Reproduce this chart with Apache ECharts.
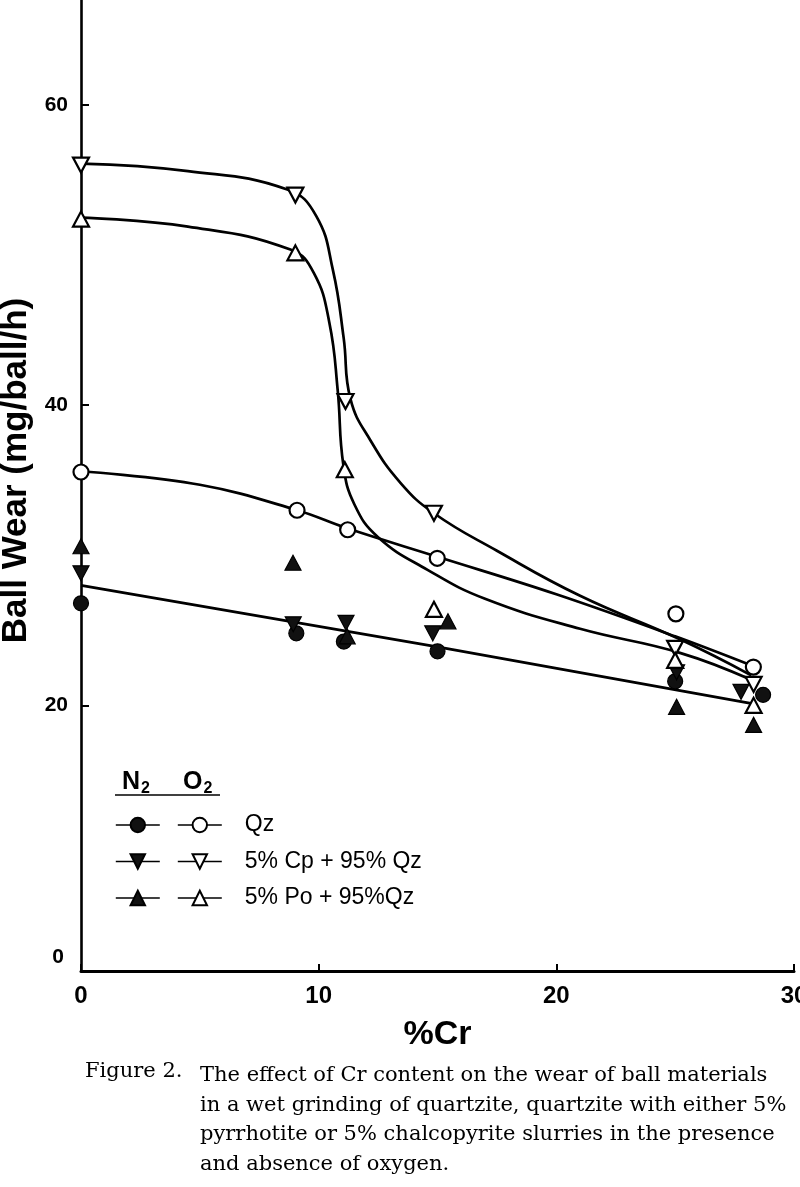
<!DOCTYPE html>
<html><head><meta charset="utf-8">
<script src="https://cdn.jsdelivr.net/npm/echarts@6/dist/echarts.min.js"></script>
<style>html,body{margin:0;padding:0;background:#fff}#c{width:800px;height:1187px}</style>
</head><body><div id="c"></div>
<script>
// ---- axis ticks ----
const xTickValues = [0, 10, 20, 30];
const yTickValues = [20, 40, 60];
const yAxisBottom = 2.3;   // value where the drawn x-axis sits (labelled "0" in the figure)
const yAxisTop = 67;

// ---- measured points (x = %Cr, y = ball wear mg/ball/h) ----
const o2Qz = [[0,35.55],[9.09,33.0],[11.22,31.7],[14.99,29.8],[25.03,26.1],[28.29,22.55]];
const o2Cp = [[0,56.0],[9.02,54.0],[11.13,40.25],[14.85,32.8],[25.0,23.8],[28.3,21.4]];
const o2Po = [[0,52.4],[9.02,50.15],[11.1,35.7],[14.85,26.4],[25.0,23.0],[28.3,20.0]];
const n2Qz = [[0,26.8],[9.06,24.8],[11.06,24.25],[15.0,23.6],[25.0,21.6],[28.7,20.7]];
const n2Cp = [[0,28.8],[8.93,25.4],[11.15,25.5],[14.8,24.8],[25.06,22.2],[27.77,20.9]];
const n2Po = [[0,30.6],[8.92,29.5],[11.2,24.6],[15.44,25.6],[25.06,19.9],[28.3,18.7]];

// ---- fitted curves ----
const curveCp = [[0,56.1],[4.5,55.6],[8.68,54.37],[9.9,52.6],[10.6,49.0],[11.05,44.5],[11.34,40.4],[12.2,37.6],[13.44,34.83],[14.85,32.8],[17.5,30.3],[21,27.3],[25.2,24.4],[28.2,22.0]];
const curvePo = [[0,52.5],[4.5,51.9],[8.81,50.37],[9.8,48.8],[10.45,45.5],[10.8,41.0],[11.04,36.0],[11.5,33.4],[12.5,31.2],[14.58,29.03],[17,27.1],[21,25.1],[25.2,23.5],[28.2,21.7]];
const curveQz = [[0,35.6],[5,34.7],[9.1,33.0],[11.2,31.8],[15,29.9],[20,27.4],[25,24.6],[28.3,22.6]];
const curveN2 = [[0,28.0],[15.0,23.9],[28.3,20.1]];

// ---- text ----
const legendNames = ['Qz', '5% Cp + 95% Qz', '5% Po + 95%Qz'];
const captionLead = 'Figure 2.';
const captionLines = [
  'The effect of Cr content on the wear of ball materials',
  'in a wet grinding of quartzite, quartzite with either 5%',
  'pyrrhotite or 5% chalcopyrite slurries in the presence',
  'and absence of oxygen.'
];

const SANS = "'Liberation Sans', Arial, Helvetica, sans-serif";
const SERIF = "'DejaVu Serif', 'Liberation Serif', serif";

function curve(name, data, smooth) {
  return { type:'line', name, data, smooth:smooth, symbol:'none', showSymbol:false,
    lineStyle:{ color:'#000', width:2.7 }, silent:true, z:2, legendHoverLink:false };
}
function markers(name, data, symbol, filled, rotate) {
  return { type:'line', name, data, symbol, symbolSize: symbol === 'circle' ? 15 : [16, 15],
    symbolRotate: rotate || 0, showSymbol:true,
    lineStyle:{ width:0, opacity:0 },
    itemStyle:{ color: filled ? '#111' : '#fff', borderColor:'#000', borderWidth: filled ? 1.2 : 2.2, opacity:1 },
    z:4, silent:true };
}

const legendCommon = { orient:'vertical', itemWidth:44, itemHeight:18, itemGap:13.5, padding:0,
  selectedMode:false, lineStyle:{ color:'#000', width:1.6, opacity:1 } };

const chart = echarts.init(document.getElementById('c'));
chart.setOption({
  animation:false,
  backgroundColor:'#fff',
  grid:{ left:81, right:6, top:0, bottom:216, containLabel:false, outerBoundsMode:'none' },
  xAxis:{ type:'value', min:xTickValues[0], max:xTickValues[xTickValues.length-1], interval:10,
    axisLine:{ lineStyle:{ color:'#000', width:3 } },
    axisTick:{ inside:true, length:7, lineStyle:{ color:'#000', width:2 } },
    splitLine:{ show:false },
    axisLabel:{ color:'#000', fontFamily:SANS, fontWeight:'bold', fontSize:24, margin:13 },
    name:'%Cr', nameLocation:'middle', nameGap:47,
    nameTextStyle:{ color:'#000', fontFamily:SANS, fontWeight:'bold', fontSize:34 } },
  yAxis:{ type:'value', min:yAxisBottom, max:yAxisTop,
    axisLine:{ show:true, lineStyle:{ color:'#000', width:2.6 } },
    axisTick:{ show:true, inside:true, length:8, customValues:yTickValues, lineStyle:{ color:'#000', width:2 } },
    axisLabel:{ show:true, customValues:[yAxisBottom].concat(yTickValues), color:'#000', fontFamily:SANS, fontWeight:'bold', fontSize:21, margin:13,
      formatter:(v)=> v === yAxisBottom ? '{z|0}' : String(v),
      rich:{ z:{ fontFamily:SANS, fontWeight:'bold', fontSize:21, padding:[0,4,28,0], color:'#000' } } },
    splitLine:{ show:false },
    name:'Ball Wear (mg/ball/h)', nameLocation:'middle', nameGap:42,
    nameTextStyle:{ color:'#000', fontFamily:SANS, fontWeight:'bold', fontSize:35, padding:[0,0,0,30] } },
  title:{ text:'{n|N}{s|2}{o|O}{s|2}', left:122, top:768, padding:0,
    textStyle:{ rich:{ n:{ fontFamily:SANS, fontSize:25, color:'#000', lineHeight:26 },
                      o:{ fontFamily:SANS, fontSize:25, color:'#000', lineHeight:26, padding:[0,0,0,33] },
                      s:{ fontFamily:SANS, fontSize:16, color:'#000', padding:[13,0,0,1] } } } },
  legend:[
    Object.assign({ data:['N2 Qz','N2 Cp','N2 Po'], left:115, top:813.5,
      formatter:()=>' ', textStyle:{ fontFamily:SANS, fontSize:23, lineHeight:23, color:'#000' } }, legendCommon),
    Object.assign({ data:legendNames, left:177, top:813.5,
      textStyle:{ fontFamily:SANS, fontSize:23, lineHeight:23, color:'#000', padding:[0,0,0,18] } }, legendCommon)
  ],
  graphic:[
    { type:'line', shape:{ x1:115, y1:795, x2:220, y2:795 }, style:{ stroke:'#000', lineWidth:1.5 } },
    { type:'text', left:85, top:1061, style:{ text:captionLead, font:'21px ' + SERIF, fill:'#000' } },
    { type:'text', left:200, top:1061, style:{ text:captionLines.join('\n'), font:'21px ' + SERIF, fill:'#000', lineHeight:29.5 } }
  ],
  series:[
    curve('curveCp', curveCp, 0.45), curve('curvePo', curvePo, 0.45), curve('curveQz', curveQz, 0.4), curve('curveN2', curveN2, false),
    markers('N2 Qz', n2Qz, 'circle', true),
    markers('N2 Cp', n2Cp, 'triangle', true, 180),
    markers('N2 Po', n2Po, 'triangle', true),
    markers('Qz', o2Qz, 'circle', false),
    markers('5% Cp + 95% Qz', o2Cp, 'triangle', false, 180),
    markers('5% Po + 95%Qz', o2Po, 'triangle', false)
  ]
});
</script></body></html>
